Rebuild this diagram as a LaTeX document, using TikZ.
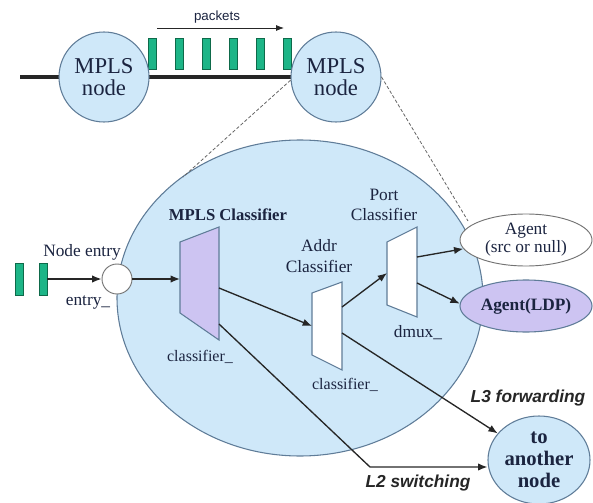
\documentclass[tikz,border=0pt]{standalone}
\usepackage{fontspec}
\setmainfont{Liberation Serif}
\setsansfont{Liberation Sans}
\usetikzlibrary{arrows.meta,shapes.geometric}

\definecolor{skyfill}{HTML}{CFE8F9}
\definecolor{edgeblue}{HTML}{5F7C98}
\definecolor{lavender}{HTML}{CDC4F2}
\definecolor{pktgreen}{HTML}{1DB587}
\definecolor{pktedge}{HTML}{0E6A4A}
\definecolor{inkblue}{HTML}{1B2440}

\tikzset{
  txt/.style={text=inkblue, inner sep=0pt, align=center, font=\rmfamily\fontsize{13}{16}\selectfont},
  bigtxt/.style={txt, font=\rmfamily\fontsize{17}{17}\selectfont},
  boldtxt/.style={txt, font=\rmfamily\bfseries\fontsize{12.5}{15}\selectfont},
  labeltxt/.style={txt, font=\sffamily\bfseries\itshape\fontsize{13}{15}\selectfont, text=black!85},
  packet/.style={draw=pktedge, fill=pktgreen, line width=0.6pt},
  outline/.style={draw=edgeblue, line width=0.8pt},
  trapbox/.style={draw=edgeblue, line width=0.8pt},
  link/.style={draw=black!85, line width=1pt, -{Latex[length=7pt,width=5.5pt]}},
  zoomline/.style={draw=black!60, dash pattern=on 2.5pt off 1.5pt, line width=0.6pt},
}

\begin{document}
\begin{tikzpicture}[x=0.75pt, y=-0.75pt]
\useasboundingbox (0,0) rectangle (593,503);

% ---------- top strip: link with two MPLS nodes and packets ----------
\coordinate (lnA) at (20,77);
\coordinate (lnB) at (300,77);
\draw[line width=2.3pt, black!85] (lnA) -- (lnB);

\foreach \px in {152,179,206,233,260,287}
  \draw[packet] (\px-4,38) rectangle (\px+4,69);

\node[txt, font=\sffamily\fontsize{10}{12}\selectfont] (pk) at (217,17) {packets};
\coordinate (pkS) at (157,28);
\coordinate (pkE) at (284,28);
\draw[draw=black!85, line width=0.6pt, -{Latex[length=6pt,width=4.5pt]}] (pkS) -- (pkE);

\node[outline, fill=skyfill, circle, minimum size=67.5pt, inner sep=0pt] (n1) at (104,77) {};
\node[bigtxt] at (n1) {MPLS\\node};
\node[outline, fill=skyfill, circle, minimum size=67.5pt, inner sep=0pt] (n2) at (336,77) {};
\node[bigtxt] at (n2) {MPLS\\node};

% ---------- enlarged view of the node ----------
\node[outline, fill=skyfill, ellipse, minimum width=274.5pt, minimum height=237pt, inner sep=0pt] (big) at (300,298) {};

\coordinate (zA) at (183,177);
\coordinate (zB) at (468,221);
\draw[zoomline] (n2.184) -- (zA);
\draw[zoomline] (n2.east) -- (zB);

% entry point
\foreach \px in {19,43}
  \draw[packet] (\px-4,263) rectangle (\px+4,295);
\coordinate (pin) at (47,279);
\node[draw=black!55, fill=white, line width=0.7pt, circle, minimum size=22.5pt, inner sep=0pt] (entry) at (117,279) {};
\node[txt] at (82,252) {Node entry};
\node[txt] at (88,302) {entry\_};

% MPLS classifier
\coordinate (m1) at (180,242);
\coordinate (m2) at (219,227);
\coordinate (m3) at (219,340);
\coordinate (m4) at (180,313);
\draw[trapbox, fill=lavender] (m1) -- (m2) -- (m3) -- (m4) -- cycle;
\node[boldtxt] at (228,215) {MPLS Classifier};
\node[txt, font=\rmfamily\fontsize{12}{14}\selectfont] at (200,357) {classifier\_};
\coordinate (mIn) at (180,279);
\coordinate (mOutA) at (219,288);
\coordinate (mOutB) at (219,324);

% address classifier
\coordinate (a1) at (312,293);
\coordinate (a2) at (342,282);
\coordinate (a3) at (342,370);
\coordinate (a4) at (312,355);
\draw[trapbox, fill=white] (a1) -- (a2) -- (a3) -- (a4) -- cycle;
\node[txt] at (319,256) {Addr\\Classifier};
\node[txt, font=\rmfamily\fontsize{12}{14}\selectfont] at (345,385) {classifier\_};
\coordinate (aIn) at (312,326);
\coordinate (aOutA) at (342,307);
\coordinate (aOutB) at (342,333);

% port classifier
\coordinate (p1) at (387,242);
\coordinate (p2) at (417,227);
\coordinate (p3) at (417,317);
\coordinate (p4) at (387,305);
\draw[trapbox, fill=white] (p1) -- (p2) -- (p3) -- (p4) -- cycle;
\node[txt, font=\rmfamily\fontsize{13}{15}\selectfont] at (384,205) {Port\\Classifier};
\node[txt] at (418,333) {dmux\_};
\coordinate (pIn) at (387,273);
\coordinate (pOutA) at (417,257);
\coordinate (pOutB) at (417,283);

% agents
\node[draw=black!55, line width=0.7pt, fill=white, ellipse, minimum width=99pt, minimum height=39pt, inner sep=0pt] (agent) at (526,240) {};
\node[txt, font=\rmfamily\fontsize{13}{13.5}\selectfont] at (agent) {Agent\\(src or null)};
\node[outline, fill=lavender, ellipse, minimum width=99pt, minimum height=39pt, inner sep=0pt] (ldp) at (526,306) {};
\node[txt, font=\rmfamily\bfseries\fontsize{13}{15}\selectfont] at (ldp) {Agent(LDP)};

% next hop
\node[outline, fill=skyfill, ellipse, minimum width=76.5pt, minimum height=66pt, inner sep=0pt] (other) at (539,460) {};
\node[txt, font=\rmfamily\bfseries\fontsize{15.5}{16.5}\selectfont] at (other) {to\\another\\node};

% ---------- connectors ----------
\draw[link] (pin) -- (entry.west);
\draw[link] (entry.east) -- (mIn);
\draw[link] (mOutA) -- (aIn);
\draw[link] (aOutA) -- (pIn);
\draw[link] (pOutA) -- (agent.188);
\draw[link] (pOutB) -- (ldp.178);
\draw[link] (aOutB) -- (other);
\coordinate (bend) at (370,467);
\draw[link] (mOutB) -- (bend) -- (bend -| other.west);

\node[labeltxt] at (528,398) {L3 forwarding};
\node[labeltxt] at (418,483) {L2 switching};
\end{tikzpicture}
\end{document}
